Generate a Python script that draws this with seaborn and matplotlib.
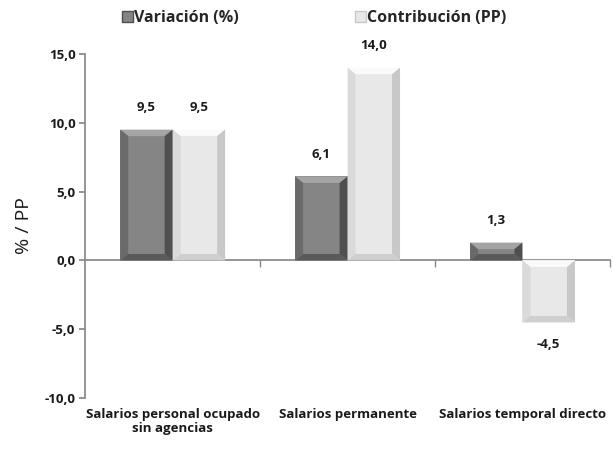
import seaborn as sns
import matplotlib.pyplot as plt
import pandas as pd
from matplotlib.patches import Polygon, Patch

categorias = ["Salarios personal ocupado\nsin agencias", "Salarios permanente", "Salarios temporal directo"]
series = ["Variación (%)", "Contribución (PP)"]
variacion = [9.5, 6.1, 1.3]
contribucion = [9.5, 14.0, -4.5]

colores = ["#858585", "#e8e8e8"]
bisel_top = ["#a4a4a4", "#fafafa"]
bisel_lado = ["#6a6a6a", "#dadada"]
bisel_der = ["#4f4f4f", "#c8c8c8"]
bisel_bajo = ["#5a5a5a", "#cfcfcf"]

df = pd.DataFrame({
    "cat": categorias * 2,
    "serie": [series[0]] * 3 + [series[1]] * 3,
    "valor": variacion + contribucion,
})

sns.set_theme(style="white")
plt.rcParams["font.family"] = ["Open Sans", "DejaVu Sans"]

fig = plt.figure(figsize=(6.13, 4.53), dpi=100)
ax = fig.add_axes([0.139, 0.121, 0.856, 0.76])

sns.barplot(data=df, x="cat", y="valor", hue="serie", palette=colores,
            width=0.6, gap=0, saturation=1, legend=False, ax=ax, zorder=2)

# bevel effect built from each bar's own extent
fig.canvas.draw()
inv = ax.transData.inverted()
for i, p in enumerate(ax.patches):
    s = 0 if i < 3 else 1
    x0, y0 = p.get_x(), p.get_y()
    w, h = p.get_width(), p.get_height()
    y_lo, y_hi = min(y0, y0 + h), max(y0, y0 + h)
    (px0, py0), (px1, py1) = ax.transData.transform([(x0, y_lo), (x0 + w, y_hi)])
    b = 8
    (ix0, iy0), (ix1, iy1) = inv.transform([(px0 + b, py0 + b), (px1 - b, py1 - b)])
    if iy1 < iy0:
        iy0 = iy1 = (y_lo + y_hi) / 2
    p.set_edgecolor("none")
    top = Polygon([(x0, y_hi), (x0 + w, y_hi), (ix1, iy1), (ix0, iy1)], closed=True,
                  fc=bisel_top[s], ec="none", zorder=3)
    left = Polygon([(x0, y_lo), (x0, y_hi), (ix0, iy1), (ix0, iy0)], closed=True,
                   fc=bisel_lado[s], ec="none", zorder=3)
    right = Polygon([(x0 + w, y_lo), (x0 + w, y_hi), (ix1, iy1), (ix1, iy0)], closed=True,
                    fc=bisel_der[s], ec="none", zorder=3)
    bottom = Polygon([(x0, y_lo), (x0 + w, y_lo), (ix1, iy0), (ix0, iy0)], closed=True,
                     fc=bisel_bajo[s], ec="none", zorder=3)
    for poly in (top, left, right, bottom):
        ax.add_patch(poly)

# value labels
for i, p in enumerate(ax.patches[:6]):
    v = p.get_height()
    txt = f"{v:.1f}".replace(".", ",")
    off = 11 if v >= 0 else -11
    ax.annotate(txt, (p.get_x() + p.get_width() / 2, v), xytext=(0, off),
                textcoords="offset points", ha="center",
                va="bottom" if v >= 0 else "top",
                fontsize=9.5, fontweight="bold", color="#1a1a1a")

ax.set_ylim(-10, 15)
ax.set_yticks(range(-10, 16, 5))
ax.set_yticklabels([f"{t:.1f}".replace(".", ",") for t in range(-10, 16, 5)],
                   fontsize=9.5, fontweight="bold", color="#1a1a1a")
ax.tick_params(axis="y", length=4, color="#888888", direction="out", left=True, pad=3)
ax.set_ylabel("% / PP", fontsize=14, color="#1a1a1a", labelpad=8)
ax.set_xlabel("")
ax.set_xlim(-0.5, 2.5)

for sp in ["top", "right"]:
    ax.spines[sp].set_visible(False)
ax.spines["left"].set_color("#888888")
ax.spines["bottom"].set_position(("data", 0))
ax.spines["bottom"].set_color("#888888")
ax.spines["bottom"].set_zorder(1)
ax.set_xticks([])
ax.set_xticks([0.5, 1.5, 2.5], minor=True)
ax.tick_params(axis="x", which="minor", length=5, color="#888888", direction="out", bottom=True)

sec = ax.secondary_xaxis("bottom")
sec.spines["bottom"].set_visible(False)
sec.set_xticks(range(3))
sec.set_xticklabels(categorias, fontsize=9.5, fontweight="bold", color="#1a1a1a", linespacing=1.1)
sec.tick_params(length=0, pad=7)

handles = [Patch(facecolor=colores[0], edgecolor=bisel_der[0]),
           Patch(facecolor=colores[1], edgecolor=bisel_der[1])]
fig.legend(handles, series, loc="upper left", bbox_to_anchor=(0.175, 1.01), ncol=2,
           frameon=False, handlelength=0.7, handleheight=0.7, handletextpad=0.05,
           columnspacing=7.3, prop={"weight": "bold", "size": 11.5})

fig.savefig("out.png", dpi=100)
